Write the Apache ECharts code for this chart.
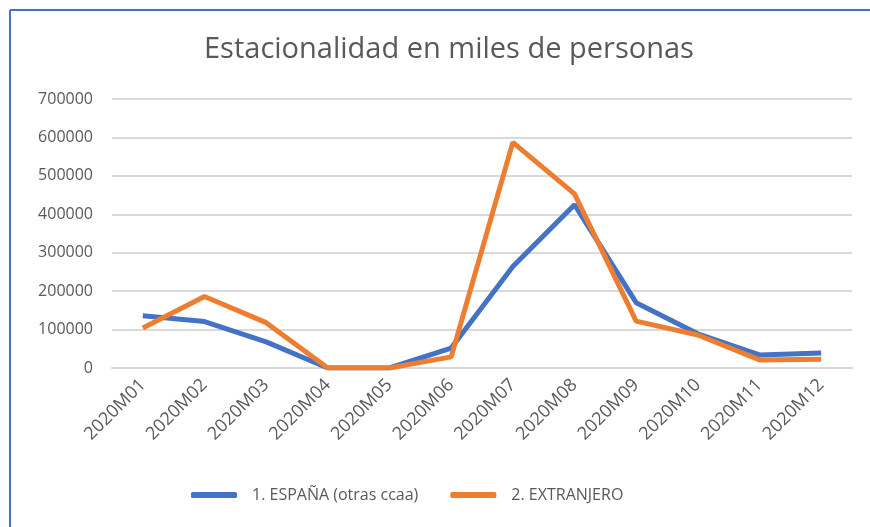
<!DOCTYPE html>
<html>
<head>
<meta charset="utf-8">
<script src="https://cdn.jsdelivr.net/npm/echarts@6/dist/echarts.min.js"></script>
<style>
  html, body { margin: 0; padding: 0; background: #fff; }
  #chart { width: 870px; height: 527px; }
</style>
</head>
<body>
<div id="chart"></div>
<script>
// datos
var meses = ['2020M01', '2020M02', '2020M03', '2020M04', '2020M05', '2020M06',
             '2020M07', '2020M08', '2020M09', '2020M10', '2020M11', '2020M12'];
var espana = [136000, 121000, 68000, 0, 0, 52000, 264000, 425000, 170000, 89000, 34000, 39000];
var extranjero = [104000, 186000, 118000, 0, 0, 29000, 587000, 453000, 122000, 86000, 21000, 23000];
var ejeY = { min: 0, max: 700000, interval: 100000 };

var chart = echarts.init(document.getElementById('chart'));
var gris = '#595959';

var option = {
    animation: false,
    title: {
        text: 'Estacionalidad en miles de personas',
        left: 199,
        top: 30,
        textStyle: { fontFamily: 'Open Sans', fontWeight: 'normal', fontSize: 29, color: gris }
    },
    legend: {
        bottom: 19,
        left: 186,
        itemWidth: 46,
        itemHeight: 6,
        itemGap: 32,
        icon: 'roundRect',
        textStyle: { fontFamily: 'Open Sans', fontSize: 16, color: gris, padding: [0, 0, 0, 10] },
        data: ['1. ESPAÑA (otras ccaa)', '2. EXTRANJERO']
    },
    grid: { left: 112, right: 18, top: 99, bottom: 159 },
    xAxis: {
        type: 'category',
        data: meses,
        boundaryGap: true,
        axisLine: { lineStyle: { color: '#d9d9d9', width: 2 } },
        axisTick: { show: false },
        axisLabel: { rotate: 45, fontFamily: 'Open Sans', fontSize: 18, color: gris, margin: 14 }
    },
    yAxis: {
        type: 'value',
        min: ejeY.min,
        max: ejeY.max,
        interval: ejeY.interval,
        axisLine: { show: false },
        axisTick: { show: false },
        axisLabel: {
            fontFamily: 'Open Sans', fontSize: 16, color: gris, margin: 19,
            formatter: function (v) { return String(v); }
        },
        splitLine: { lineStyle: { color: '#d9d9d9', width: 2 } }
    },
    series: [
        {
            name: '1. ESPAÑA (otras ccaa)',
            type: 'line',
            data: espana,
            symbol: 'none',
            lineStyle: { color: '#4472C4', width: 5 },
            itemStyle: { color: '#4472C4' }
        },
        {
            name: '2. EXTRANJERO',
            type: 'line',
            data: extranjero,
            symbol: 'none',
            lineStyle: { color: '#ED7D31', width: 5 },
            itemStyle: { color: '#ED7D31' }
        }
    ],
    graphic: [
        { type: 'line', shape: { x1: 10, y1: 10, x2: 870, y2: 10 }, style: { stroke: '#4472C4', lineWidth: 2 } },
        { type: 'line', shape: { x1: 10, y1: 10, x2: 10, y2: 527 }, style: { stroke: '#4472C4', lineWidth: 2 } }
    ]
};

chart.setOption(option);
</script>
</body>
</html>
